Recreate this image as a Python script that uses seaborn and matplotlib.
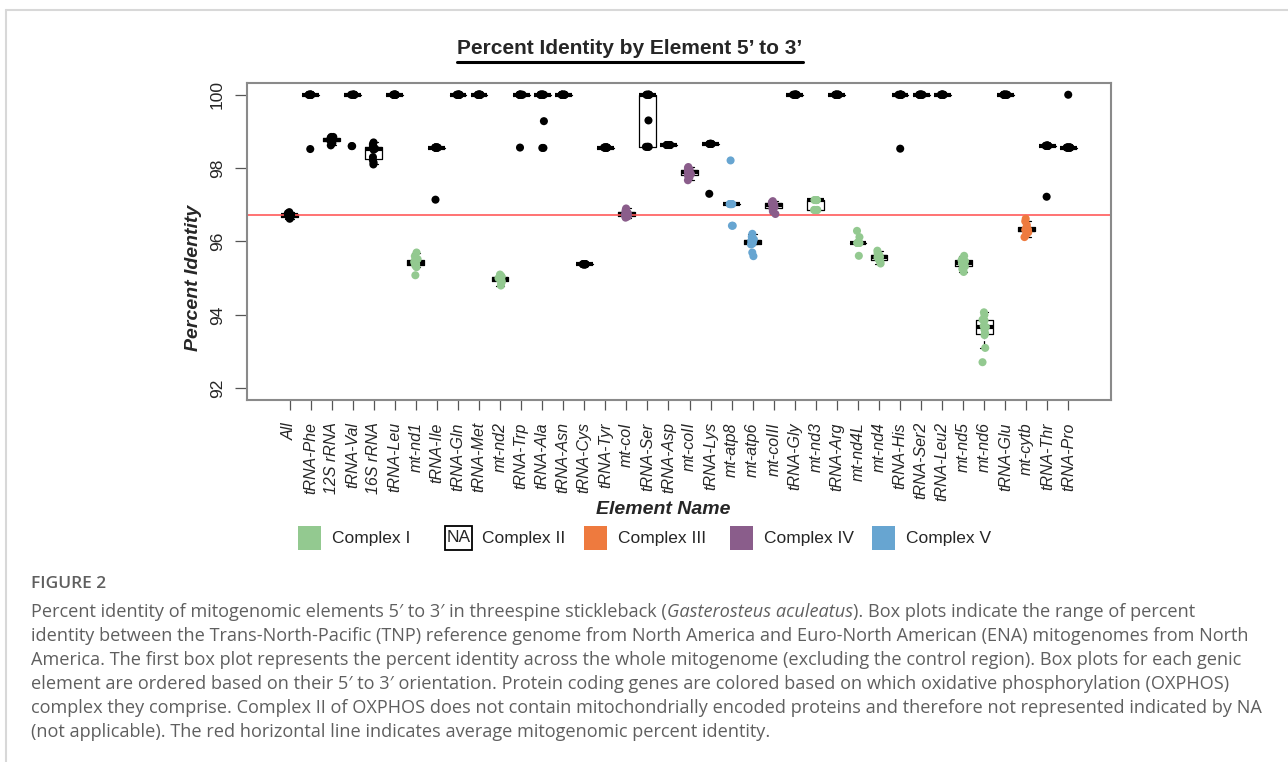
import numpy as np
import pandas as pd
import matplotlib
matplotlib.use("Agg")
import matplotlib.pyplot as plt
import seaborn as sns
from matplotlib.patches import Rectangle
from matplotlib.lines import Line2D
from matplotlib import font_manager

# ---------------- data ----------------
elements = ["All", "tRNA-Phe", "12S rRNA", "tRNA-Val", "16S rRNA", "tRNA-Leu", "mt-nd1",
            "tRNA-Ile", "tRNA-Gln", "tRNA-Met", "mt-nd2", "tRNA-Trp", "tRNA-Ala", "tRNA-Asn",
            "tRNA-Cys", "tRNA-Tyr", "mt-coI", "tRNA-Ser", "tRNA-Asp", "mt-coII", "tRNA-Lys",
            "mt-atp8", "mt-atp6", "mt-coIII", "tRNA-Gly", "mt-nd3", "tRNA-Arg", "mt-nd4L",
            "mt-nd4", "tRNA-His", "tRNA-Ser2", "tRNA-Leu2", "mt-nd5", "mt-nd6", "tRNA-Glu",
            "mt-cytb", "tRNA-Thr", "tRNA-Pro"]
complexes = ["none", "none", "none", "none", "none", "none", "I",
             "none", "none", "none", "I", "none", "none", "none",
             "none", "none", "IV", "none", "none", "IV", "none",
             "V", "V", "IV", "none", "I", "none", "I",
             "I", "none", "none", "none", "I", "I", "none",
             "III", "none", "none"]

all_vals = [96.62, 96.65, 96.67, 96.69, 96.70, 96.72, 96.73, 96.75, 96.77, 96.80]
trna_phe = [100.0] * 9 + [98.52]
rrna_12s = [98.62, 98.68, 98.72, 98.75, 98.77, 98.78, 98.80, 98.82, 98.85, 98.85]
trna_val = [100.0] * 8 + [98.60] * 2
rrna_16s = [98.10, 98.15, 98.22, 98.30, 98.50, 98.53, 98.55, 98.60, 98.65, 98.70]
trna_leu = [100.0] * 10
mt_nd1 = [95.08, 95.30, 95.35, 95.38, 95.40, 95.42, 95.44, 95.48, 95.52, 95.60, 95.70]
trna_ile = [98.56] * 9 + [97.14]
trna_gln = [100.0] * 10
trna_met = [100.0] * 10
mt_nd2 = [94.80, 94.85, 94.90, 94.95, 94.98, 95.00, 95.02, 95.04, 95.06, 95.10]
trna_trp = [100.0] * 9 + [98.56]
trna_ala = [100.0] * 10 + [99.28] + [98.55] * 2
trna_asn = [100.0] * 10
trna_cys = [95.38] * 10
trna_tyr = [98.56] * 10
mt_coi = [96.65, 96.68, 96.70, 96.72, 96.74, 96.76, 96.78, 96.80, 96.84, 96.90]
trna_ser = [98.58] * 4 + [99.30] + [100.0] * 6
trna_asp = [98.63] * 10
mt_coii = [97.67, 97.75, 97.80, 97.84, 97.87, 97.90, 97.93, 97.96, 98.00, 98.03]
trna_lys = [98.66] * 9 + [97.30]
mt_atp8 = [98.21] + [97.02] * 7 + [96.43] * 2
mt_atp6 = [95.60, 95.70, 95.92, 95.94, 95.97, 95.99, 96.01, 96.04, 96.06, 96.13, 96.21]
mt_coiii = [96.75, 96.82, 96.90, 96.94, 96.97, 97.00, 97.02, 97.05, 97.07, 97.10]
trna_gly = [100.0] * 10
mt_nd3 = [96.86] * 4 + [97.13] * 6
trna_arg = [100.0] * 10
mt_nd4l = [95.61] + [95.96] * 7 + [96.12] + [96.29]
mt_nd4 = [95.40, 95.45, 95.50, 95.53, 95.56, 95.58, 95.60, 95.64, 95.68, 95.75]
trna_his = [100.0] * 9 + [98.53]
trna_ser2 = [100.0] * 10
trna_leu2 = [100.0] * 10
mt_nd5 = [95.17, 95.25, 95.32, 95.36, 95.40, 95.43, 95.46, 95.49, 95.53, 95.61]
mt_nd6 = [92.71, 93.10, 93.45, 93.50, 93.60, 93.67, 93.70, 93.85, 93.87, 94.00, 94.07]
trna_glu = [100.0] * 10
mt_cytb = [96.12, 96.18, 96.25, 96.30, 96.32, 96.32, 96.33, 96.36, 96.45, 96.55, 96.62]
trna_thr = [98.61] * 9 + [97.22]
trna_pro = [98.56] * 9 + [100.0]

values = [all_vals, trna_phe, rrna_12s, trna_val, rrna_16s, trna_leu, mt_nd1,
          trna_ile, trna_gln, trna_met, mt_nd2, trna_trp, trna_ala, trna_asn,
          trna_cys, trna_tyr, mt_coi, trna_ser, trna_asp, mt_coii, trna_lys,
          mt_atp8, mt_atp6, mt_coiii, trna_gly, mt_nd3, trna_arg, mt_nd4l,
          mt_nd4, trna_his, trna_ser2, trna_leu2, mt_nd5, mt_nd6, trna_glu,
          mt_cytb, trna_thr, trna_pro]

mean_identity = 96.73
y_ticks = [92, 94, 96, 98, 100]
legend_labels = ["Complex I", "Complex II", "Complex III", "Complex IV", "Complex V"]
legend_keys = ["I", "II", "III", "IV", "V"]

palette = {"none": "#000000", "I": "#93c990", "III": "#ee7a3e", "IV": "#8a5d8b", "V": "#67a5d1", "II": "#ffffff"}

title_text = "Percent Identity by Element 5\u2019 to 3\u2019"
caption_lines = [
    [("Percent identity of mitogenomic elements 5\u2032 to 3\u2032 in threespine stickleback (", "normal"),
     ("Gasterosteus aculeatus", "italic"),
     ("). Box plots indicate the range of percent", "normal")],
    [("identity between the Trans-North-Pacific (TNP) reference genome from North America and Euro-North American (ENA) mitogenomes from North", "normal")],
    [("America. The first box plot represents the percent identity across the whole mitogenome (excluding the control region). Box plots for each genic", "normal")],
    [("element are ordered based on their 5\u2032 to 3\u2032 orientation. Protein coding genes are colored based on which oxidative phosphorylation (OXPHOS)", "normal")],
    [("complex they comprise. Complex II of OXPHOS does not contain mitochondrially encoded proteins and therefore not represented indicated by NA", "normal")],
    [("(not applicable). The red horizontal line indicates average mitogenomic percent identity.", "normal")],
]

# ---------------- build frame ----------------
rows = []
for el, grp, vals in zip(elements, complexes, values):
    for v in vals:
        rows.append({"element": el, "group": grp, "pid": v})
df = pd.DataFrame(rows)

sns.set_style("white")
plt.rcParams["font.family"] = ["Liberation Sans", "DejaVu Sans"]

avail = {f.name for f in font_manager.fontManager.ttflist}
cap_font = "Open Sans" if "Open Sans" in avail else "DejaVu Sans"

W, H = 1288, 762
fig = plt.figure(figsize=(W / 100, H / 100), dpi=100)
fig.patch.set_facecolor("white")


def fx(x):
    return x / W


def fy(y):
    return 1 - y / H


ax = fig.add_axes([fx(247), fy(400), (1111 - 247) / W, (400 - 83) / H])

np.random.seed(3)
sns.boxplot(data=df, x="element", y="pid", order=elements, ax=ax, fill=False,
            color="black", linecolor="black", width=0.8, linewidth=0.9, showfliers=False, whis=1.5,
            medianprops=dict(linewidth=3.0, color="black", solid_capstyle="butt"),
            whiskerprops=dict(linestyle="--", color="black", linewidth=0.9),
            capprops=dict(color="black", linewidth=0.9),
            boxprops=dict(color="black", linewidth=0.9))

ax.axhline(mean_identity, color="#ff5a5a", lw=1.2, zorder=2.5)

sns.stripplot(data=df, x="element", y="pid", order=elements, hue="group",
              palette=palette, jitter=0.09, size=5.8, linewidth=0, legend=False,
              ax=ax, zorder=3)

ax.set_xlim(-2.02, 39.02)
ax.set_ylim(91.68, 100.32)
ax.set_yticks(y_ticks)
ax.set_yticklabels([str(t) for t in y_ticks], rotation=90, va="center", fontsize=12.5)
ax.set_xticks(range(len(elements)))
ax.set_xticklabels(elements, rotation=90, fontsize=11.5, fontstyle="italic")
ax.tick_params(axis="x", bottom=True, length=7, width=0.9, color="#555555", pad=9)
ax.tick_params(axis="y", left=True, length=9, width=0.9, color="#555555", pad=7)
ax.set_xlabel("")
ax.set_ylabel("")
for s in ax.spines.values():
    s.set_color("#8a8a8a")
    s.set_linewidth(1.5)

# axis labels
fig.text(fx(194), fy(278), "Percent Identity", rotation=90, ha="center", va="center",
         fontsize=14, fontweight="bold", fontstyle="italic")
fig.text(fx(663), fy(510), "Element Name", ha="center", va="center",
         fontsize=14, fontweight="bold", fontstyle="italic")

# title with underline
t = fig.text(fx(630), fy(49), title_text, ha="center", va="center", fontsize=15,
             fontweight="bold")
r = fig.canvas.get_renderer()
bb = t.get_window_extent(renderer=r)
fig.add_artist(Line2D([bb.x0 / W, bb.x1 / W], [fy(62)] * 2, color="black", lw=2.2))

# legend
legend_x = [298, 445, 584, 730, 872]
for xk, key, lab in zip(legend_x, legend_keys, legend_labels):
    if key == "II":
        fig.add_artist(Rectangle((fx(xk), fy(550)), 27 / W, 24 / H, transform=fig.transFigure,
                                 facecolor="white", edgecolor="black", lw=1.3))
        fig.text(fx(xk + 13.5), fy(538), "NA", ha="center", va="center", fontsize=12.5)
        fig.text(fx(xk + 37), fy(538), lab, ha="left", va="center", fontsize=12.5)
    else:
        fig.add_artist(Rectangle((fx(xk), fy(550)), 23 / W, 24 / H, transform=fig.transFigure,
                                 facecolor=palette[key], edgecolor="none"))
        fig.text(fx(xk + 34), fy(538), lab, ha="left", va="center", fontsize=12.5)

# frame lines of the card
fig.add_artist(Line2D([fx(6), 1], [fy(10)] * 2, color="#d8d8d8", lw=1.5))
fig.add_artist(Line2D([fx(6)] * 2, [0, fy(10)], color="#d8d8d8", lw=1.5))

# caption
cap_color = "#5f5f5f"
fig.text(fx(31), fy(584), "FIGURE 2", ha="left", va="center", fontsize=12.5,
         fontweight="semibold", color=cap_color, family=[cap_font, "DejaVu Sans"])

probe = fig.text(0, 0, caption_lines[1][0][0], fontsize=12, family=[cap_font, "DejaVu Sans"])
pw = probe.get_window_extent(renderer=r).width
probe.remove()
cap_size = 12 * 1212 / pw

line_y = [612, 636, 660, 684, 708, 732]
for pieces, yy in zip(caption_lines, line_y):
    x = 31.0
    for txt, style in pieces:
        tt = fig.text(fx(x), fy(yy), txt, ha="left", va="center", fontsize=cap_size,
                      fontstyle=style, color=cap_color, family=[cap_font, "DejaVu Sans"])
        x += tt.get_window_extent(renderer=r).width

fig.savefig("out.png", dpi=100)
